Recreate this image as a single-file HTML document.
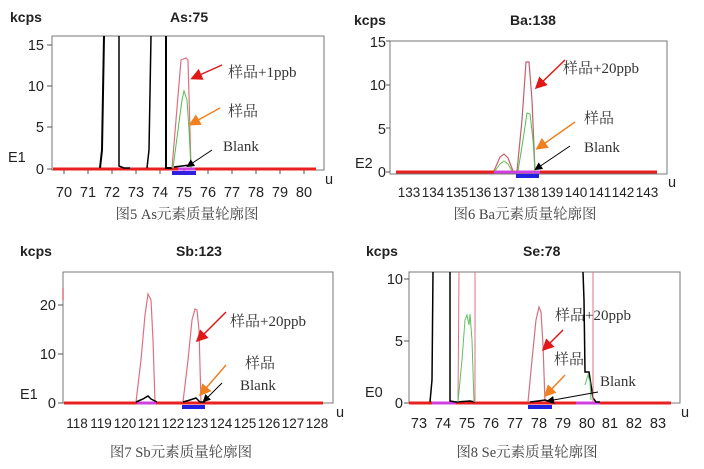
<!DOCTYPE html>
<html><head><meta charset="utf-8"><style>
html,body{margin:0;padding:0;background:#fff;}
svg{display:block;}
.ax{font-family:"Liberation Sans",Arial,sans-serif;font-size:14.5px;fill:#222;}
.ax3{font-family:"Liberation Sans",Arial,sans-serif;font-size:13.5px;fill:#222;}
.ti{font-family:"Liberation Sans",Arial,sans-serif;font-size:14px;font-weight:bold;fill:#222;}
.an{font-family:"Liberation Serif","Noto Serif CJK SC",serif;font-size:15px;fill:#333;}
.cap{font-family:"Liberation Serif","Noto Serif CJK SC",serif;font-size:14.5px;fill:#444;}
</style></head><body>
<svg width="704" height="469" viewBox="0 0 704 469" xmlns="http://www.w3.org/2000/svg">
<defs>
<marker id="ar" markerWidth="8" markerHeight="8" refX="6" refY="4" orient="auto"><path d="M0,0 L8,4 L0,8 z" fill="#e01818"/></marker>
<marker id="ao" markerWidth="8" markerHeight="8" refX="6" refY="4" orient="auto"><path d="M0,0 L8,4 L0,8 z" fill="#f08020"/></marker>
<marker id="ab" markerWidth="8" markerHeight="8" refX="6" refY="4" orient="auto"><path d="M0,0 L8,4 L0,8 z" fill="#000"/></marker>
</defs>

<!-- Panel 1 As -->
<text x="10" y="22" class="ti">kcps</text>
<text x="170" y="22" class="ti">As:75</text>
<rect x="52" y="36" width="272" height="134" fill="none" stroke="#777" stroke-width="1"/>
<g class="ax" text-anchor="end">
<text x="44" y="50">15</text><text x="44" y="91">10</text><text x="44" y="132">5</text><text x="44" y="174">0</text></g>
<g stroke="#555"><line x1="47" y1="45" x2="52" y2="45"/><line x1="47" y1="86" x2="52" y2="86"/><line x1="47" y1="127" x2="52" y2="127"/><line x1="47" y1="169" x2="52" y2="169"/></g>
<text x="8" y="162" class="ax">E1</text>
<text x="325" y="184" class="ax">u</text>
<g class="ax" text-anchor="middle">
<text x="64" y="197">70</text><text x="88" y="197">71</text><text x="112" y="197">72</text><text x="136" y="197">73</text><text x="160" y="197">74</text><text x="184" y="197">75</text><text x="208" y="197">76</text><text x="232" y="197">77</text><text x="256" y="197">78</text><text x="280" y="197">79</text><text x="304" y="197">80</text></g>
<g stroke="#555"><line x1="64" y1="170" x2="64" y2="174"/><line x1="88" y1="170" x2="88" y2="174"/><line x1="112" y1="170" x2="112" y2="174"/><line x1="136" y1="170" x2="136" y2="174"/><line x1="160" y1="170" x2="160" y2="174"/><line x1="184" y1="170" x2="184" y2="174"/><line x1="208" y1="170" x2="208" y2="174"/><line x1="232" y1="170" x2="232" y2="174"/><line x1="256" y1="170" x2="256" y2="174"/><line x1="280" y1="170" x2="280" y2="174"/><line x1="304" y1="170" x2="304" y2="174"/></g>
<line x1="53" y1="169" x2="316" y2="169" stroke="#e82020" stroke-width="3"/>
<rect x="172" y="171" width="24" height="4" fill="#3020e0"/>
<line x1="178" y1="169" x2="195" y2="169" stroke="#d040e0" stroke-width="3"/>
<polyline points="100,168 102,150 104,36 104,36" fill="none" stroke="#000" stroke-width="2"/>
<polyline points="119,36 119,166 124,168 130,168" fill="none" stroke="#000" stroke-width="1.5"/>
<polyline points="147,168 149,150 151,36" fill="none" stroke="#000" stroke-width="1.5"/>
<polyline points="166,36 166,168 172,168" fill="none" stroke="#000" stroke-width="2"/>
<polyline points="172,168 176,120 181,60 186,58 188,60 191,168" fill="none" stroke="#e07080" stroke-width="1.2"/>
<polyline points="173,168 178,130 182,100 184,91 187,100 189,130 191,168" fill="none" stroke="#50c050" stroke-width="1"/>
<polyline points="174,167 182,166 190,165" fill="none" stroke="#000" stroke-width="1.5"/>
<line x1="222" y1="65" x2="193" y2="78" stroke="#e01818" stroke-width="1.5" marker-end="url(#ar)"/>
<line x1="220" y1="108" x2="191" y2="124" stroke="#f08020" stroke-width="1.5" marker-end="url(#ao)"/>
<line x1="212" y1="150" x2="188" y2="166" stroke="#000" stroke-width="1" marker-end="url(#ab)"/>
<text x="228" y="77" class="an">样品+1ppb</text>
<text x="228" y="116" class="an">样品</text>
<text x="223" y="151" class="an">Blank</text>
<text x="187" y="219" class="cap" text-anchor="middle">图5 As元素质量轮廓图</text>

<!-- Panel 2 Ba -->
<text x="354" y="25" class="ti">kcps</text>
<text x="510" y="25" class="ti">Ba:138</text>
<rect x="390" y="41" width="277" height="133" fill="none" stroke="#777"/>
<g class="ax" text-anchor="end">
<text x="386" y="47">15</text><text x="386" y="90">10</text><text x="386" y="134">5</text><text x="386" y="177">0</text></g>
<g stroke="#555"><line x1="386" y1="41" x2="390" y2="41"/><line x1="386" y1="85" x2="390" y2="85"/><line x1="386" y1="128" x2="390" y2="128"/><line x1="386" y1="172" x2="390" y2="172"/></g>
<text x="355" y="168" class="ax">E2</text>
<text x="668" y="187" class="ax">u</text>
<g class="ax3" text-anchor="middle">
<text x="409" y="197">133</text><text x="433" y="197">134</text><text x="457" y="197">135</text><text x="480" y="197">136</text><text x="504" y="197">137</text><text x="528" y="197">138</text><text x="552" y="197">139</text><text x="576" y="197">140</text><text x="600" y="197">141</text><text x="623" y="197">142</text><text x="647" y="197">143</text></g>
<line x1="396" y1="172" x2="657" y2="172" stroke="#e82020" stroke-width="3"/>
<line x1="494" y1="172" x2="540" y2="172" stroke="#d040e0" stroke-width="3"/>
<rect x="516" y="174" width="23" height="4" fill="#2020e0"/>
<polyline points="494,171 500,157 504,154 508,158 513,171" fill="none" stroke="#c06070" stroke-width="1.2"/>
<polyline points="495,171 500,164 504,161 508,164 512,171" fill="none" stroke="#70c050" stroke-width="1"/>
<polyline points="517,171 522,120 526,62 529,62 532,100 535,171" fill="none" stroke="#c06070" stroke-width="1.2"/>
<polyline points="518,171 523,140 527,113 530,114 533,140 535,171" fill="none" stroke="#50c050" stroke-width="1"/>
<line x1="565" y1="60" x2="537" y2="87" stroke="#e01818" stroke-width="1.5" marker-end="url(#ar)"/>
<line x1="575" y1="122" x2="538" y2="148" stroke="#f08020" stroke-width="1.5" marker-end="url(#ao)"/>
<line x1="570" y1="146" x2="536" y2="169" stroke="#000" stroke-width="1" marker-end="url(#ab)"/>
<text x="563" y="73" class="an">样品+20ppb</text>
<text x="584" y="123" class="an">样品</text>
<text x="584" y="152" class="an">Blank</text>
<text x="525" y="219" class="cap" text-anchor="middle">图6 Ba元素质量轮廓图</text>

<!-- Panel 3 Sb -->
<text x="20" y="256" class="ti">kcps</text>
<text x="176" y="256" class="ti">Sb:123</text>
<rect x="63" y="272" width="270" height="131" fill="none" stroke="#777"/>
<g class="ax" text-anchor="end">
<text x="56" y="310">20</text><text x="56" y="359">10</text><text x="56" y="408">0</text></g>
<g stroke="#555"><line x1="58" y1="305" x2="63" y2="305"/><line x1="58" y1="354" x2="63" y2="354"/><line x1="58" y1="403" x2="63" y2="403"/></g>
<text x="20" y="399" class="ax">E1</text>
<text x="336" y="417" class="ax">u</text>
<g class="ax3" text-anchor="middle">
<text x="77" y="428">118</text><text x="101" y="428">119</text><text x="125" y="428">120</text><text x="149" y="428">121</text><text x="173" y="428">122</text><text x="197" y="428">123</text><text x="221" y="428">124</text><text x="245" y="428">125</text><text x="269" y="428">126</text><text x="293" y="428">127</text><text x="317" y="428">128</text></g>
<line x1="64" y1="403" x2="323" y2="403" stroke="#e82020" stroke-width="3"/>
<line x1="137" y1="403" x2="156" y2="403" stroke="#d040e0" stroke-width="3"/>
<rect x="182" y="405" width="23" height="4" fill="#2020e0"/>
<line x1="63" y1="288" x2="63" y2="300" stroke="#e07080" stroke-width="1.5"/>
<polyline points="136,402 141,360 145,315 148,294 151,300 153,340 155,402" fill="none" stroke="#e07080" stroke-width="1.2"/>
<polyline points="136,402 143,399 148,396 151,399 157,402" fill="none" stroke="#000" stroke-width="1.5"/>
<polyline points="183,402 188,360 192,320 195,309 197,310 199,330 201,402" fill="none" stroke="#e07080" stroke-width="1.2"/>
<polyline points="183,402 190,400 196,398 200,402 205,402" fill="none" stroke="#000" stroke-width="1.5"/>
<line x1="226" y1="312" x2="198" y2="340" stroke="#e01818" stroke-width="1.5" marker-end="url(#ar)"/>
<line x1="226" y1="365" x2="201" y2="394" stroke="#f08020" stroke-width="1.5" marker-end="url(#ao)"/>
<line x1="222" y1="383" x2="204" y2="401" stroke="#000" stroke-width="1" marker-end="url(#ab)"/>
<text x="230" y="326" class="an">样品+20ppb</text>
<text x="245" y="368" class="an">样品</text>
<text x="240" y="390" class="an">Blank</text>
<text x="181" y="457" class="cap" text-anchor="middle">图7 Sb元素质量轮廓图</text>

<!-- Panel 4 Se -->
<text x="366" y="256" class="ti">kcps</text>
<text x="523" y="256" class="ti">Se:78</text>
<rect x="409" y="272" width="271" height="131" fill="none" stroke="#777"/>
<g class="ax" text-anchor="end">
<text x="403" y="284">10</text><text x="403" y="346">5</text><text x="403" y="408">0</text></g>
<g stroke="#555"><line x1="404" y1="279" x2="409" y2="279"/><line x1="404" y1="341" x2="409" y2="341"/><line x1="404" y1="403" x2="409" y2="403"/></g>
<text x="365" y="397" class="ax">E0</text>
<text x="681" y="417" class="ax">u</text>
<g class="ax" text-anchor="middle">
<text x="419" y="428">73</text><text x="443" y="428">74</text><text x="467" y="428">75</text><text x="491" y="428">76</text><text x="515" y="428">77</text><text x="539" y="428">78</text><text x="563" y="428">79</text><text x="587" y="428">80</text><text x="610" y="428">81</text><text x="634" y="428">82</text><text x="658" y="428">83</text></g>
<line x1="409" y1="403" x2="671" y2="403" stroke="#e82020" stroke-width="3"/>
<line x1="432" y1="403" x2="456" y2="403" stroke="#d040e0" stroke-width="3"/>
<line x1="576" y1="403" x2="600" y2="403" stroke="#d040e0" stroke-width="3"/>
<rect x="528" y="405" width="24" height="4" fill="#2020e0"/>
<polyline points="430,402 432,380 433,272" fill="none" stroke="#000" stroke-width="1.5"/>
<polyline points="450,272 450,401 456,402 470,401 475,402" fill="none" stroke="#000" stroke-width="1.5"/>
<line x1="459" y1="272" x2="458" y2="402" stroke="#e07080" stroke-width="1"/>
<line x1="475" y1="272" x2="475" y2="402" stroke="#e07080" stroke-width="1"/>
<polyline points="458,402 462,360 465,320 467,315 469,325 470,314 472,340 474,402" fill="none" stroke="#60c060" stroke-width="1"/>
<polyline points="528,402 532,360 536,320 539,307 541,312 543,345 545,402" fill="none" stroke="#d07080" stroke-width="1.2"/>
<polyline points="530,402 538,401 545,400 552,402" fill="none" stroke="#000" stroke-width="1.5"/>
<polyline points="583,272 584,300 585,372 589,372 591,385 593,398 596,402 600,402" fill="none" stroke="#000" stroke-width="1.5"/>
<line x1="593" y1="272" x2="593" y2="402" stroke="#e07080" stroke-width="1"/>
<polyline points="585,385 588,375 590,382 591,400" fill="none" stroke="#60c060" stroke-width="1"/>
<line x1="563" y1="330" x2="544" y2="349" stroke="#e01818" stroke-width="1.5" marker-end="url(#ar)"/>
<line x1="565" y1="375" x2="546" y2="395" stroke="#f08020" stroke-width="1.5" marker-end="url(#ao)"/>
<line x1="598" y1="392" x2="548" y2="401" stroke="#000" stroke-width="1" marker-end="url(#ab)"/>
<text x="555" y="320" class="an">样品+20ppb</text>
<text x="554" y="364" class="an">样品</text>
<text x="600" y="386" class="an">Blank</text>
<text x="527" y="457" class="cap" text-anchor="middle">图8 Se元素质量轮廓图</text>
</svg>
</body></html>
